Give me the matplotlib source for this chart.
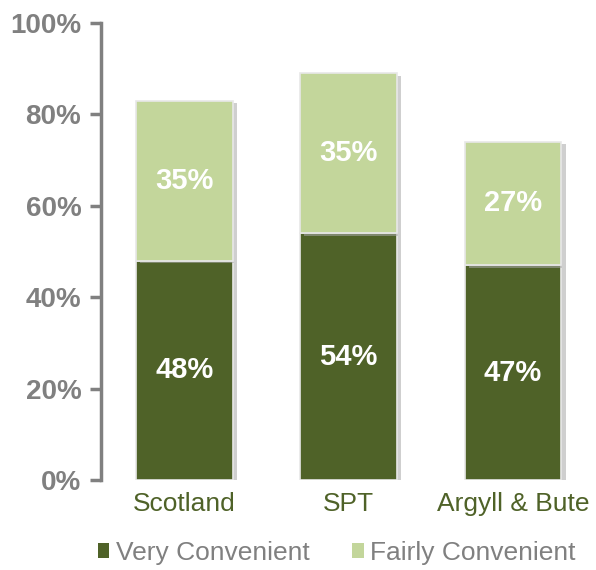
import matplotlib.pyplot as plt
import matplotlib.patheffects as pe
import numpy as np

plt.rcParams["font.family"] = ["Liberation Sans", "DejaVu Sans"]

categories = ["Scotland", "SPT", "Argyll & Bute"]
veryConvenient = [48, 54, 47]
fairlyConvenient = [35, 35, 27]
seriesNames = ["Very Convenient", "Fairly Convenient"]

darkGreen = "#4F6228"
lightGreen = "#C3D69B"
axisGray = "#808080"

fig = plt.figure(figsize=(5.96, 5.70), dpi=100)
ax = fig.add_axes([0.169, 0.158, 0.835, 0.802])

xPos = np.arange(len(categories))
shadow = [pe.SimplePatchShadow(offset=(3, -2), shadow_rgbFace="#A8A8A8", alpha=0.55), pe.Normal()]
barWidth = 0.59
lowBars = ax.bar(xPos, veryConvenient, width=barWidth, color=darkGreen, edgecolor="#E8E8E8",
                 linewidth=1.2, label=seriesNames[0], path_effects=shadow)
highBars = ax.bar(xPos, fairlyConvenient, bottom=veryConvenient, width=barWidth, color=lightGreen,
                  edgecolor="#E8E8E8", linewidth=1.2, label=seriesNames[1], path_effects=shadow)

for idx in range(len(categories)):
    ax.text(xPos[idx], veryConvenient[idx] / 2, f"{veryConvenient[idx]}%", ha="center", va="center",
            color="white", fontsize=21, fontweight="bold")
    ax.text(xPos[idx], veryConvenient[idx] + fairlyConvenient[idx] / 2, f"{fairlyConvenient[idx]}%",
            ha="center", va="center", color="white", fontsize=21, fontweight="bold")

ax.set_xlim(-0.51, 2.52)
ax.set_ylim(0, 100)
ax.set_yticks([0, 20, 40, 60, 80, 100])
ax.set_yticklabels([f"{v}%" for v in range(0, 101, 20)], fontsize=20, fontweight="bold", color=axisGray)
ax.set_xticks(xPos)
ax.set_xticklabels(categories, fontsize=19, color=darkGreen)
ax.tick_params(axis="x", length=0, pad=9)
ax.tick_params(axis="y", length=8, width=2.5, color=axisGray, pad=6)
for side in ["top", "right", "bottom"]:
    ax.spines[side].set_visible(False)
ax.spines["left"].set_color(axisGray)
ax.spines["left"].set_linewidth(2.5)
ax.spines["left"].set_bounds(0, 100)

legend = fig.legend(handles=[lowBars, highBars], labels=seriesNames, loc="center",
                    bbox_to_anchor=(0.565, 0.03), ncol=2, frameon=False, fontsize=19,
                    handlelength=0.45, handleheight=0.45, handletextpad=0.25, columnspacing=1.6)
for text in legend.get_texts():
    text.set_color(axisGray)
for handle in legend.legend_handles:
    handle.set_path_effects([])
    handle.set_edgecolor("none")

fig.savefig("out.png", dpi=100)
